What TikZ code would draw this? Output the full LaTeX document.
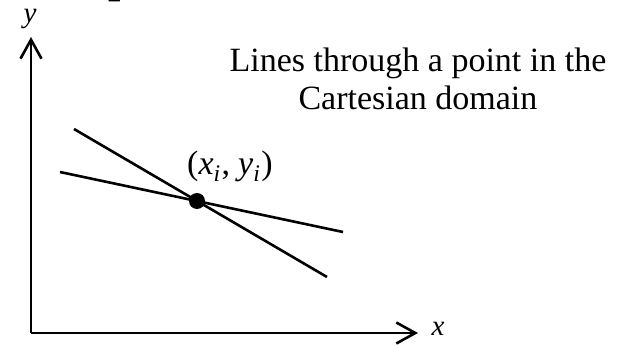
\documentclass[tikz,border=0pt]{standalone}
\usepackage{fontspec}
\setmainfont{Liberation Serif}
\usetikzlibrary{arrows.meta}
\begin{document}
\begin{tikzpicture}[x=1pt,y=-1pt,
  axis/.style={line width=2.6pt, -{Straight Barb[length=19pt,width=21pt,line width=2.6pt]}},
  ray/.style={line width=2.6pt},
  lbl/.style={inner sep=0pt, font=\fontsize{29}{34}\selectfont\itshape},
  title/.style={inner sep=0pt, align=center, font=\fontsize{34}{38}\selectfont}]
\useasboundingbox (0,0) rectangle (624,345);
\node[inner sep=0pt, anchor=base west, font=\fontsize{44}{50}\selectfont\bfseries] (hdr) at (108,-7) {p};
\coordinate (O) at (31,333);
\coordinate (Ytip) at (31,37);
\coordinate (Xtip) at (418,333);
\draw[axis] (O) -- (Ytip);
\draw[axis] (O) -- (Xtip);
\node[lbl] (ylab) at (30,19) {y};
\node[lbl] (xlab) at (438,329) {x};
\node[title, anchor=base] (ttl) at (418,110) {Lines through a point in the\\Cartesian domain};
\coordinate (a1) at (74,129);
\coordinate (a2) at (327,277);
\coordinate (b1) at (60,172);
\coordinate (b2) at (343,232);
\draw[ray] (a1) -- (a2);
\draw[ray] (b1) -- (b2);
\node[circle, fill=black, inner sep=0pt, minimum size=16pt] (P) at (197,201) {};
\node[inner sep=0pt, anchor=base, font=\fontsize{34}{38}\selectfont] (plab) at (230,174) {(\textit{x}\textsubscript{\textit{i}}\kern1pt,\kern8pt\textit{y}\textsubscript{\textit{i}}\kern1pt)};
\end{tikzpicture}
\end{document}
